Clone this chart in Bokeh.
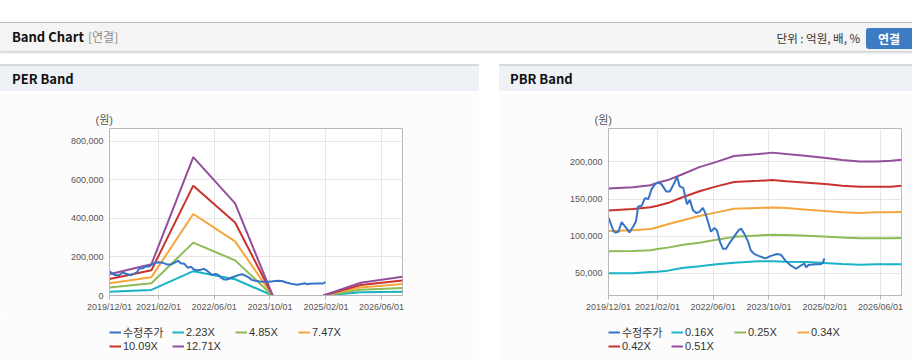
import numpy as np
import pandas as pd
from bokeh.plotting import figure
from bokeh.models import (Range1d, FixedTicker, DatetimeTickFormatter, NumeralTickFormatter,
                          Legend, LegendItem, Div, Spacer, Title)
from bokeh.layouts import column, row
from bokeh.embed import file_html
from bokeh.resources import INLINE

# ---------------- data ----------------
x_tick_dates = ["2019-12-01", "2021-02-01", "2022-06-01", "2023-10-01", "2025-02-01", "2026-06-01"]
x_start, x_end = "2019-12-01", "2026-12-01"

price_dates = [
    "2019-12-01", "2020-01-13", "2020-01-28", "2020-02-26", "2020-03-25", "2020-04-23",
    "2020-06-01", "2020-07-04", "2020-07-28", "2020-08-16", "2020-09-16", "2020-10-13",
    "2020-11-13", "2020-12-10", "2021-01-10", "2021-02-07", "2021-03-07", "2021-04-19",
    "2021-05-19", "2021-06-22", "2021-07-22", "2021-08-13", "2021-09-13", "2021-10-16",
    "2021-11-10", "2021-12-07", "2022-01-07", "2022-02-04", "2022-03-04", "2022-03-25",
    "2022-04-16", "2022-05-13", "2022-06-13", "2022-07-04", "2022-08-01", "2022-08-25",
    "2022-09-22", "2022-10-28", "2022-12-04", "2023-01-10", "2023-02-01", "2023-03-01",
    "2023-04-01", "2023-04-25", "2023-05-25", "2023-07-07", "2023-09-01", "2023-10-13",
    "2023-12-10", "2024-01-13", "2024-02-22", "2024-04-04", "2024-05-25", "2024-07-01",
    "2024-08-04", "2024-08-22", "2024-09-10", "2024-11-07", "2024-12-22", "2025-01-13",
    "2025-01-28",
]
price_values = [
    125000, 107000, 105000, 106000, 119000, 113000,
    105000, 113000, 120000, 140000, 141000, 151000,
    150000, 163000, 170000, 172000, 170000, 160000,
    160000, 170000, 180000, 167000, 165000, 143000,
    149000, 135000, 131000, 133000, 138000, 131000,
    120000, 106000, 111000, 108000, 92000, 83000,
    83000, 92000, 100000, 108000, 110000, 103000,
    93000, 81000, 76000, 73000, 70000, 73000,
    76000, 75000, 67000, 61000, 56000, 60000,
    63000, 58000, 61000, 62000, 62000, 64000,
    70000,
]

NA = float("nan")
per_dates = ["2019-12-01", "2020-12-01", "2021-12-01", "2022-12-01", "2023-10-25",
             "2024-06-01", "2025-01-10", "2025-12-01", "2026-12-01"]
per_223 = [20000, 29000, 126000, 84000, 0, NA, 0, 17000, 19000]
per_485 = [42000, 63000, 274000, 182000, 0, NA, 0, 30000, 39000]
per_747 = [64000, 95000, 422000, 280000, 0, NA, 0, 42000, 59000]
per_1009 = [85000, 131000, 569000, 378000, 0, NA, 0, 54000, 78000]
per_1271 = [110000, 162000, 717000, 477000, 0, NA, 0, 66000, 97000]
per_labels = ["수정주가", "2.23X", "4.85X", "7.47X", "10.09X", "12.71X"]
per_yticks = [0, 200000, 400000, 600000, 800000]

pbr_dates = ["2019-12-01", "2020-07-01", "2020-12-01", "2021-02-01", "2021-05-01",
             "2021-09-01", "2022-02-01", "2022-07-01", "2022-12-01", "2023-07-01",
             "2023-11-01", "2024-03-01", "2024-09-01", "2025-03-01", "2025-07-01",
             "2025-12-01", "2026-05-01", "2026-09-01", "2026-12-01"]
pbr_016 = [50000, 50000, 51500, 52000, 53500, 57000, 59500, 62000, 64000, 66000,
           66000, 65500, 65000, 63500, 62500, 61500, 62000, 62000, 62000]
pbr_025 = [79500, 80000, 81000, 82500, 84500, 88000, 91000, 95000, 99000, 101000,
           102000, 101500, 100500, 99000, 98000, 97000, 97000, 97000, 97500]
pbr_034 = [107000, 108000, 109500, 112000, 116000, 121000, 127000, 132000, 137000, 138000,
           138600, 138000, 135500, 133500, 132000, 131000, 132000, 132000, 132500]
pbr_042 = [134500, 136500, 139000, 141000, 144500, 152000, 160500, 167000, 173000, 174500,
           175500, 174000, 172000, 170000, 168000, 166500, 166500, 166500, 168000]
pbr_051 = [164000, 166000, 168500, 172000, 175500, 183000, 193000, 200000, 208000, 210500,
           212500, 210500, 208000, 205000, 202500, 200500, 200500, 201500, 203000]
pbr_labels = ["수정주가", "0.16X", "0.25X", "0.34X", "0.42X", "0.51X"]
pbr_yticks = [50000, 100000, 150000, 200000]

colors = ["#3574c6", "#19b3c5", "#8fbb57", "#f4a63c", "#c9322e", "#944f9c"]

NUM_FONT = "'Liberation Sans', 'Noto Sans CJK KR'"
BG = "#fcfcfc"
CHART_H = 225
LEG_H = 43


def ts(s):
    return pd.to_datetime(s)


def make_chart(width, mb_left, mb_right, y_start, y_end, yticks, band_dates, bands):
    p = figure(width=width, height=CHART_H, x_axis_type="datetime",
               x_range=Range1d(ts(x_start), ts(x_end)),
               y_range=Range1d(y_start, y_end),
               output_backend="svg", toolbar_location=None,
               min_border_left=mb_left, min_border_right=mb_right,
               min_border_top=35, min_border_bottom=23)
    p.title = Title(text="(원)", align="left", offset=-14, text_font_size="11px",
                    text_font_style="normal", text_color="#555555", text_font=NUM_FONT,
                    standoff=5)
    p.background_fill_color = "#ffffff"
    p.border_fill_color = BG
    p.outline_line_color = "#b8b8b8"

    xt = [ts(d).value // 10**6 for d in x_tick_dates]
    p.xaxis.ticker = FixedTicker(ticks=xt)
    fmt = "%Y/%m/%d"
    p.xaxis.formatter = DatetimeTickFormatter(years=fmt, months=fmt, days=fmt, hours=fmt,
                                              minutes=fmt, seconds=fmt, milliseconds=fmt,
                                              microseconds=fmt)
    p.yaxis.ticker = FixedTicker(ticks=yticks)
    p.yaxis.formatter = NumeralTickFormatter(format="0,0")
    for ax in (p.xaxis[0], p.yaxis[0]):
        ax.axis_line_color = "#b8b8b8"
        ax.major_tick_line_color = "#b8b8b8"
        ax.minor_tick_line_color = None
        ax.major_label_text_font = NUM_FONT
        ax.major_label_text_font_size = "9px"
        ax.major_label_text_color = "#555555"
    p.xaxis.major_tick_out = 4
    p.xaxis.major_tick_in = 0
    p.xaxis.major_label_standoff = 2
    p.yaxis.major_tick_out = 0
    p.yaxis.major_tick_in = 0
    p.yaxis.major_label_standoff = 6
    p.grid.grid_line_color = "#e6e6e6"

    bd = [ts(d) for d in band_dates]
    for vals, c in zip(bands, colors[1:]):
        p.line(bd, vals, line_color=c, line_width=2)
    p.line([ts(d) for d in price_dates], price_values, line_color=colors[0], line_width=2)
    return p


def make_legend(width, labels):
    # legend-only canvas: proxy line renderers sit outside the visible range
    q = figure(width=width, height=LEG_H, output_backend="svg", toolbar_location=None,
               x_axis_location=None, y_axis_location=None,
               min_border_left=108, min_border_right=0, min_border_top=6, min_border_bottom=0,
               x_range=Range1d(0, 1), y_range=Range1d(0, 1))
    q.grid.visible = False
    q.outline_line_color = None
    q.background_fill_color = BG
    q.border_fill_color = BG
    items = []
    for lab, c in zip(labels, colors):
        r = q.line([5, 6], [5, 6], line_color=c, line_width=2)
        items.append(LegendItem(label=lab, renderers=[r]))
    leg = Legend(items=items, location="top_left", orientation="horizontal", ncols=4,
                 glyph_width=12, glyph_height=12, label_height=12, label_width=49,
                 label_standoff=2, spacing=0, padding=0, margin=0,
                 label_text_font=NUM_FONT, label_text_font_size="11px",
                 label_text_color="#333333", background_fill_alpha=0,
                 border_line_color=None)
    q.add_layout(leg, "center")
    return q


per = make_chart(479, 109, 77, 0, 865000, per_yticks, per_dates,
                 [per_223, per_485, per_747, per_1009, per_1271])
pbr = make_chart(413, 109, 11, 20000, 245000, pbr_yticks, pbr_dates,
                 [pbr_016, pbr_025, pbr_034, pbr_042, pbr_051])
per_leg = make_legend(479, per_labels)
pbr_leg = make_legend(413, pbr_labels)

KFONT = "'Noto Sans CJK KR', 'Liberation Sans', sans-serif"
header_html = f"""
<div style="position:relative;width:912px;height:93px;overflow:hidden;background:#ffffff;font-family:{KFONT};">
  <div style="position:absolute;left:0;top:22px;width:912px;height:29px;background:#f4f4f4;
              border-top:1px solid #bdbdbd;box-shadow:0 2px 2px rgba(0,0,0,0.18);"></div>
  <div style="position:absolute;left:12px;top:28px;font-size:13px;font-weight:bold;color:#111;line-height:18px;">Band Chart</div>
  <div style="position:absolute;left:88px;top:28px;font-size:12px;color:#8a8a8a;line-height:18px;">[연결]</div>
  <div style="position:absolute;right:52px;top:29px;font-size:11.5px;color:#333;line-height:18px;">단위 : 억원, 배, %</div>
  <div style="position:absolute;left:866px;top:28px;width:46px;height:21px;background:#3d7cc3;border-radius:3px 0 0 3px;
              color:#fff;font-size:12px;font-weight:bold;line-height:21px;text-align:center;">연결</div>
  <div style="position:absolute;left:0;top:64px;width:479px;height:27px;background:#eef1f6;border-top:2px solid #d9d9d9;"></div>
  <div style="position:absolute;left:499px;top:64px;width:413px;height:27px;background:#eef1f6;border-top:2px solid #d9d9d9;"></div>
  <div style="position:absolute;left:12px;top:70px;font-size:13px;font-weight:bold;color:#111;line-height:18px;">PER Band</div>
  <div style="position:absolute;left:510px;top:70px;font-size:13px;font-weight:bold;color:#111;line-height:18px;">PBR Band</div>
</div>
"""
header = Div(text=header_html, width=912, height=93, margin=0)

footer_html = """
<div style="position:relative;width:912px;height:2px;overflow:hidden;background:#ffffff;">
  <div style="position:absolute;left:0;top:0;width:479px;height:2px;background:#d6d6d6;"></div>
  <div style="position:absolute;left:499px;top:0;width:413px;height:2px;background:#d6d6d6;"></div>
</div>
"""
footer = Div(text=footer_html, width=912, height=2, margin=0)

left_col = column(per, per_leg, spacing=0)
right_col = column(pbr, pbr_leg, spacing=0)
layout = column(header,
                row(left_col, Spacer(width=20, height=CHART_H + LEG_H, margin=0), right_col, spacing=0),
                footer, spacing=0)

open("out.html", "w").write(file_html(layout, INLINE))
